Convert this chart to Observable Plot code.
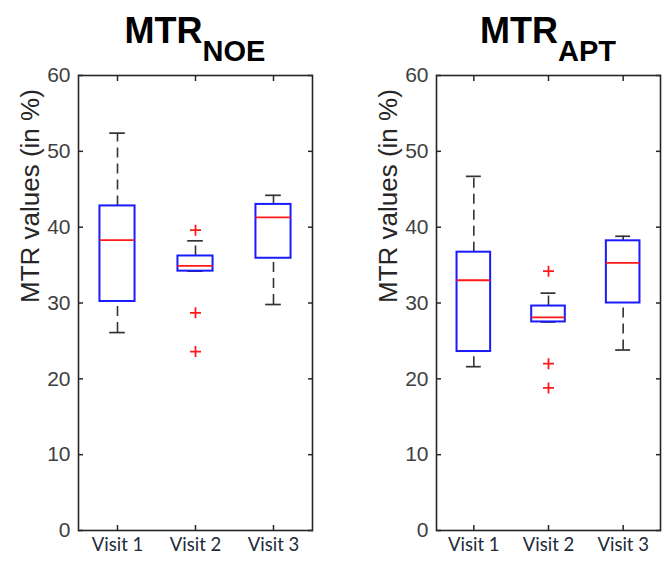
<!DOCTYPE html>
<html><head><meta charset="utf-8">
<script src="https://cdn.jsdelivr.net/npm/d3@7"></script>
<script src="https://cdn.jsdelivr.net/npm/@observablehq/plot@0.6"></script>
<style>
body{margin:0;background:#fff;}
#wrap{position:relative;width:667px;height:567px;overflow:hidden;background:#fff;}
.panel{position:absolute;top:0;}
</style></head><body><div id="wrap"></div>
<script>
// ---- data ----
const visits = ["Visit 1", "Visit 2", "Visit 3"];
const visitIndex = [1, 2, 3];
const yTicks = [0, 10, 20, 30, 40, 50, 60];
const yLabel = "MTR values (in %)";
const titleMain = "MTR";

// MTR_NOE
const noeSub = "NOE";
const noeLower = [26.1, 34.2, 29.8];
const noeQ1 = [30.2, 34.2, 35.9];
const noeMedian = [38.3, 34.9, 41.3];
const noeQ3 = [42.8, 36.2, 43.0];
const noeUpper = [52.4, 38.2, 44.2];
const noeOutlierVisit = [2, 2, 2];
const noeOutlierValue = [39.6, 28.7, 23.6];

// MTR_APT
const aptSub = "APT";
const aptLower = [21.6, 27.5, 23.8];
const aptQ1 = [23.6, 27.5, 30.0];
const aptMedian = [33.0, 28.1, 35.3];
const aptQ3 = [36.7, 29.6, 38.2];
const aptUpper = [46.7, 31.3, 38.8];
const aptOutlierVisit = [2, 2, 2];
const aptOutlierValue = [34.2, 22.0, 18.8];

const plusSymbol = {
  draw(context, size) {
    const r = Math.sqrt(size / Math.PI);
    context.moveTo(-r, 0); context.lineTo(r, 0);
    context.moveTo(0, -r); context.lineTo(0, r);
  }
};

const BOX_HALF = 0.225, CAP_HALF = 0.1;

function panel(cfg) {
  const rows = visitIndex.map((v, i) => ({
    v, label: visits[i], lower: cfg.lower[i], q1: cfg.q1[i], median: cfg.median[i], q3: cfg.q3[i], upper: cfg.upper[i]
  }));
  const outliers = cfg.outV.map((v, i) => ({v, value: cfg.outY[i]}));
  const axisStroke = "#262626";
  const plot = Plot.plot({
    width: cfg.width, height: 567,
    marginLeft: cfg.marginLeft, marginRight: cfg.marginRight, marginTop: 75, marginBottom: 37,
    style: {background: "transparent", overflow: "visible", fontFamily: "'Liberation Sans', Arial, sans-serif"},
    x: {domain: [0.5, 3.5], axis: null},
    y: {domain: [0, 60], axis: null},
    marks: [
      Plot.ruleX(rows, {x: "v", y1: "q3", y2: "upper", stroke: "#333", strokeWidth: 1.6, strokeDasharray: "10,6"}),
      Plot.ruleX(rows, {x: "v", y1: "lower", y2: "q1", stroke: "#333", strokeWidth: 1.6, strokeDasharray: "10,6"}),
      Plot.ruleY(rows, {y: "upper", x1: d => d.v - CAP_HALF, x2: d => d.v + CAP_HALF, stroke: "#333", strokeWidth: 1.7}),
      Plot.ruleY(rows, {y: "lower", x1: d => d.v - CAP_HALF, x2: d => d.v + CAP_HALF, stroke: "#333", strokeWidth: 1.7}),
      Plot.rect(rows, {x1: d => d.v - BOX_HALF, x2: d => d.v + BOX_HALF, y1: "q1", y2: "q3", fill: "none", stroke: "#1a1aff", strokeWidth: 2}),
      Plot.ruleY(rows, {y: "median", x1: d => d.v - BOX_HALF, x2: d => d.v + BOX_HALF, stroke: "#ff1a1a", strokeWidth: 1.8}),
      Plot.dot(outliers, {x: "v", y: "value", symbol: plusSymbol, r: 5.5, stroke: "#ff1a1a", strokeWidth: 1.8, fill: "none"}),
      Plot.frame({stroke: axisStroke, strokeWidth: 1.6}),
      Plot.axisY({ticks: yTicks, tickSize: -5, tickPadding: 13, fontSize: 21, stroke: axisStroke, fill: "#404040", strokeWidth: 1.5, label: null}),
      Plot.axisY({anchor: "right", ticks: yTicks, tickSize: -5, tickFormat: () => "", stroke: axisStroke, strokeWidth: 1.5, label: null}),
      Plot.axisX({anchor: "bottom", ticks: visitIndex, tickSize: -5, tickFormat: () => "", stroke: axisStroke, strokeWidth: 1.5, label: null}),
      Plot.axisX({anchor: "top", ticks: visitIndex, tickSize: -5, tickFormat: () => "", stroke: axisStroke, strokeWidth: 1.5, label: null}),
      Plot.text(rows, {x: "v", text: "label", frameAnchor: "bottom", dy: 20, fontFamily: "Lato", fontSize: 18.5, fill: "#222a3a"}),
      Plot.text([yLabel], {text: d => d, frameAnchor: "left", rotate: -90, dx: -48, fontSize: 26, fill: "#262626"})
    ]
  });
  const cx = cfg.marginLeft + (cfg.width - cfg.marginLeft - cfg.marginRight) / 2;
  const t = d3.select(plot).append("text")
    .attr("x", cx).attr("y", 43).attr("text-anchor", "middle")
    .style("font-family", "'Liberation Sans', Arial, sans-serif").style("font-weight", "bold").style("fill", "#000");
  t.append("tspan").style("font-size", "36px").text(titleMain);
  t.append("tspan").attr("dy", 18).style("font-size", "29px").text(cfg.sub);
  const div = document.createElement("div");
  div.className = "panel";
  div.style.left = cfg.left + "px";
  div.appendChild(plot);
  document.getElementById("wrap").appendChild(div);
}

panel({sub: noeSub, lower: noeLower, q1: noeQ1, median: noeMedian, q3: noeQ3, upper: noeUpper,
  outV: noeOutlierVisit, outY: noeOutlierValue, width: 333, marginLeft: 78, marginRight: 21, left: 0});
panel({sub: aptSub, lower: aptLower, q1: aptQ1, median: aptMedian, q3: aptQ3, upper: aptUpper,
  outV: aptOutlierVisit, outY: aptOutlierValue, width: 334, marginLeft: 103, marginRight: 7, left: 333});
</script></body></html>
